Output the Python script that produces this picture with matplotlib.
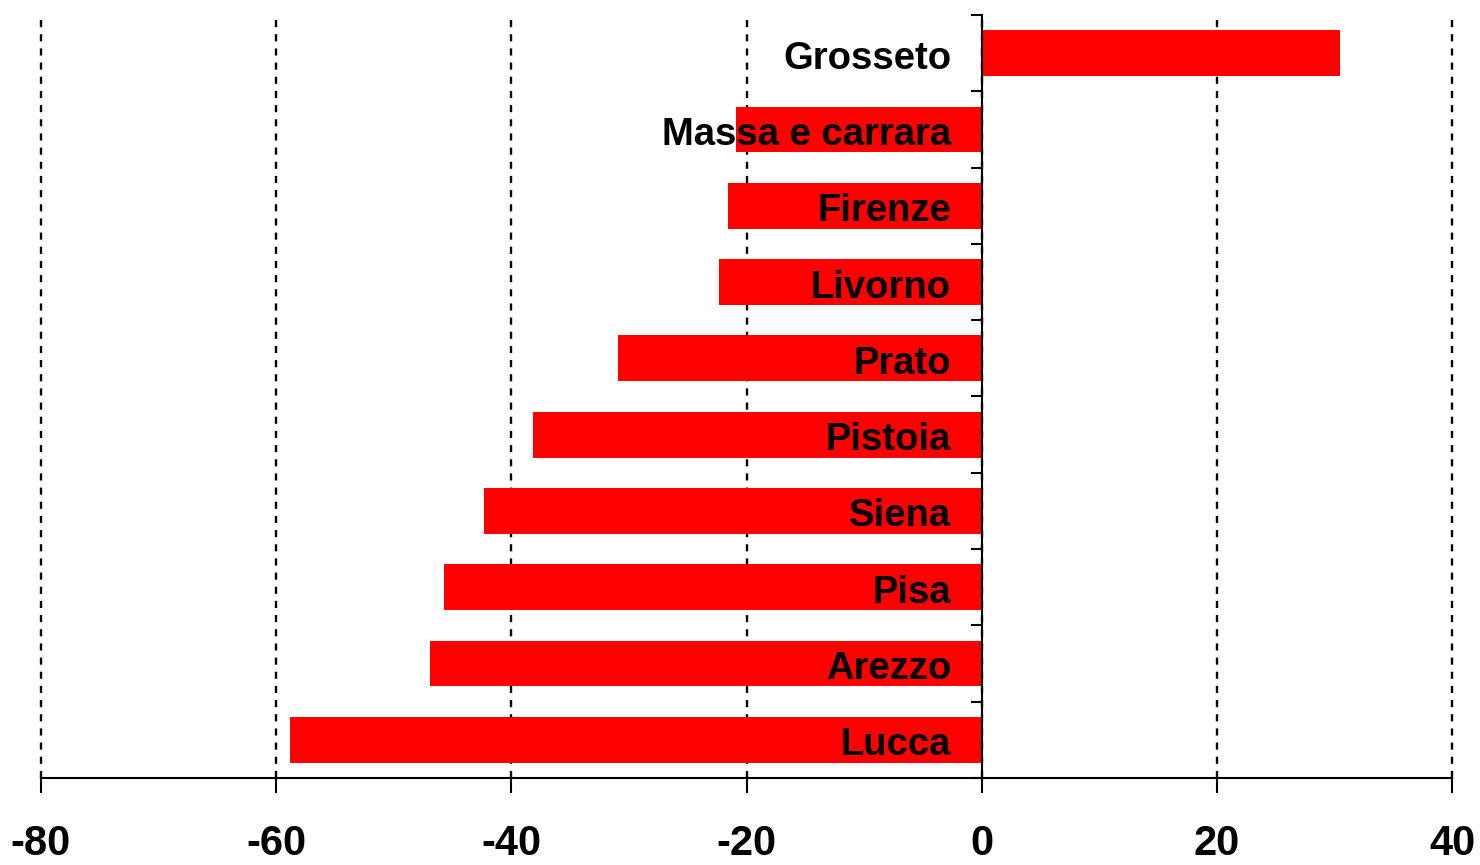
import matplotlib
matplotlib.use("Agg")
import matplotlib.pyplot as plt
import numpy as np

# province (dall'alto verso il basso) e variazione %
province = ["Grosseto", "Massa e carrara", "Firenze", "Livorno", "Prato",
            "Pistoia", "Siena", "Pisa", "Arezzo", "Lucca"]
valori = [30.5, -20.9, -21.6, -22.3, -30.9, -38.2, -42.3, -45.7, -46.9, -58.8]
xticks = [-80, -60, -40, -20, 0, 20, 40]

plt.rcParams['font.family'] = ['Liberation Sans', 'DejaVu Sans']

fig = plt.figure(figsize=(14.8, 8.65), dpi=100, facecolor='white')
ax = fig.add_axes([0.0277, 0.1006, 0.9534, 0.8821])

y = np.arange(len(province))
ax.barh(y, valori, height=0.6, color='#ff0000', zorder=2)

for yi, nome in zip(y, province):
    ax.text(-2.6, yi + 0.02, nome, ha='right', va='center_baseline',
            fontsize=27.5, fontweight='bold', color='black', zorder=3)

ax.set_xlim(-80, 40)
ax.set_ylim(len(province) - 0.5, -0.5)
ax.set_xticks(xticks)
ax.set_xticklabels([str(t) for t in xticks], fontsize=30, fontweight='bold')
ax.tick_params(axis='x', length=11, width=1.5, pad=22)

# tacche dell'asse y ai confini tra categorie
ax.set_yticks(np.arange(-0.5, len(province) + 0.5, 1.0))
ax.set_yticklabels([])
ax.tick_params(axis='y', length=8, width=1.5, direction='out')

ax.spines['left'].set_position(('data', 0))
ax.spines['left'].set_linewidth(1.5)
ax.spines['left'].set_zorder(4)
ax.spines['bottom'].set_linewidth(1.5)
ax.spines['top'].set_visible(False)
ax.spines['right'].set_visible(False)

ax.grid(axis='x', color='black', linestyle=(0, (3, 3)), linewidth=1.7, zorder=1)
ax.set_axisbelow(True)
for gl in ax.get_xgridlines():
    gl.set_clip_on(False)

fig.savefig("out.png", dpi=100, facecolor='white')
